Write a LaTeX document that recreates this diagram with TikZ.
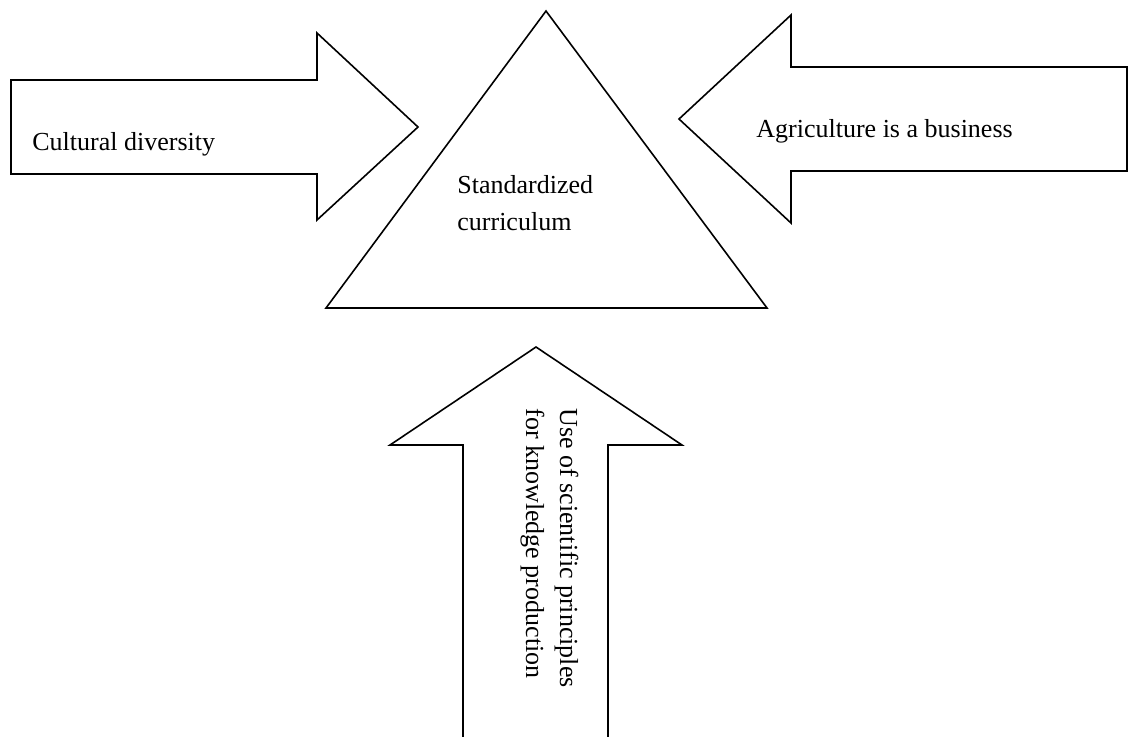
\documentclass[tikz,border=0pt]{standalone}
\usepackage{fontspec}
\setmainfont{Liberation Serif}
\usepackage{tikz}
\tikzstyle{outline}=[draw=black, line width=.8pt, line join=miter]
\tikzstyle{caption}=[inner sep=0pt, font=\fontsize{13}{15}\selectfont, anchor=base west]
\tikzstyle{canvas}=[x=.5pt, y=-.5pt]

\begin{document}
\begin{tikzpicture}[canvas]
	\useasboundingbox (0,0) rectangle (1129,736);
	\draw[outline] (11,80)--(317,80)--(317,33)--(418,127)--(317,220)--(317,174)--(11,174)--cycle;
	\draw[outline] (1127,67)--(791,67)--(791,15)--(679,119)--(791,223)--(791,171)--(1127,171)--cycle;
	\draw[outline] (546,11)--(767,308)--(326,308)--cycle;
	\draw[outline] (463,745)--(463,445)--(390,445)--(536,347)--(682,445)--(608,445)--(608,745);
	\node[caption] (cultural) at (32,150) {Cultural diversity};
	\node[caption] (business) at (756,137) {Agriculture is a business};
	\node[caption] (standard) at (457,193) {Standardized};
	\node[caption] (curriculum) at (457,230) {curriculum};
	\node[caption, rotate=-90] (science) at (560,408) {Use of scientific principles};
	\node[caption, rotate=-90] (knowledge) at (526,408) {for knowledge production};
\end{tikzpicture}
\end{document}
